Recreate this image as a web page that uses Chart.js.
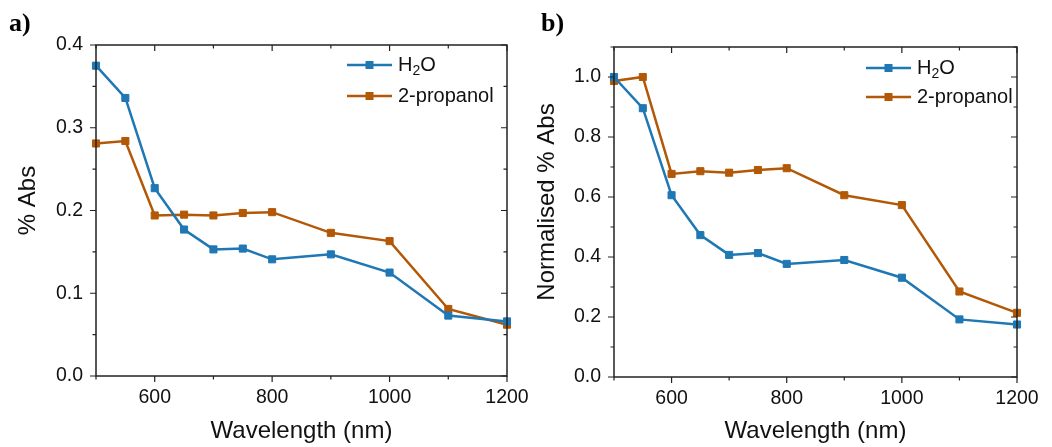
<!DOCTYPE html>
<html>
<head>
<meta charset="utf-8">
<script src="https://cdn.jsdelivr.net/npm/chart.js@4.4.1/dist/chart.umd.min.js"></script>
<style>
  html, body { margin: 0; padding: 0; background: #fff; }
  #wrap { position: relative; width: 1052px; height: 447px; overflow: hidden; }
  canvas { position: absolute; top: 0; }
  .tag { position: absolute; top: 8px; font: bold 26px "Liberation Serif", "DejaVu Serif", serif; color: #000; }
</style>
</head>
<body>
<div id="wrap">
  <canvas id="chartA" width="540" height="447" style="left:0"></canvas>
  <canvas id="chartB" width="532" height="447" style="left:520px"></canvas>
  <div class="tag" style="left:9px">a)</div>
  <div class="tag" style="left:541px">b)</div>
</div>
<script>
// data
const wavelengths = [500, 550, 600, 650, 700, 750, 800, 900, 1000, 1100, 1200];
const absWater = [0.375, 0.336, 0.227, 0.177, 0.153, 0.154, 0.141, 0.147, 0.125, 0.073, 0.066];
const absPropanol = [0.281, 0.284, 0.194, 0.195, 0.194, 0.197, 0.198, 0.173, 0.163, 0.081, 0.062];
const normWater = [1.0, 0.896, 0.606, 0.473, 0.407, 0.413, 0.377, 0.390, 0.331, 0.192, 0.175];
const normPropanol = [0.987, 1.0, 0.677, 0.686, 0.681, 0.690, 0.696, 0.606, 0.573, 0.285, 0.214];
const seriesNames = ['H₂O', '2-propanol'];
const seriesColors = ['#1f77b4', '#b35806'];

const FONT = '"Liberation Sans", Arial, sans-serif';
const AXIS = '#222';

function isMult(v, step) {
    const q = v / step;
    return Math.abs(q - Math.round(q)) < 1e-6;
}

function makeDatasets(values) {
    return values.map((vals, i) => ({
        label: seriesNames[i],
        data: wavelengths.map((w, j) => ({ x: w, y: vals[j] })),
        borderColor: seriesColors[i],
        backgroundColor: seriesColors[i],
        borderWidth: 2.5,
        pointStyle: 'rect',
        pointRadius: 5,
        pointBorderWidth: 1,
        pointBorderColor: seriesColors[i],
        pointBackgroundColor: seriesColors[i],
        tension: 0,
        clip: false
    }));
}

// frame, ticks (out on bottom/left, in on top/right), y title and the inside legend
const framePlugin = {
    id: 'frame',
    afterDatasetsDraw(chart, args, opts) {
        const { ctx, chartArea: a, scales } = chart;
        ctx.save();
        ctx.strokeStyle = AXIS;
        ctx.lineWidth = 1.5;
        ctx.strokeRect(a.left, a.top, a.right - a.left, a.bottom - a.top);

        ctx.lineWidth = 1.2;
        scales.x.ticks.forEach(t => {
            const px = scales.x.getPixelForValue(t.value);
            const len = isMult(t.value, 200) ? 6 : 3.5;
            ctx.beginPath();
            ctx.moveTo(px, a.bottom); ctx.lineTo(px, a.bottom + len);
            ctx.moveTo(px, a.top); ctx.lineTo(px, a.top + len);
            ctx.stroke();
        });
        scales.y.ticks.forEach(t => {
            const py = scales.y.getPixelForValue(t.value);
            const len = isMult(t.value, opts.yMajor) ? 6 : 3.5;
            ctx.beginPath();
            ctx.moveTo(a.left, py); ctx.lineTo(a.left - len, py);
            ctx.moveTo(a.right, py); ctx.lineTo(a.right - len, py);
            ctx.stroke();
        });

        // y title, sits a little above the middle of the axis like the original
        ctx.save();
        ctx.translate(opts.yTitleX, (a.top + a.bottom) / 2 - 10);
        ctx.rotate(-Math.PI / 2);
        ctx.fillStyle = '#111';
        ctx.font = '24px ' + FONT;
        ctx.textAlign = 'center';
        ctx.textBaseline = 'middle';
        ctx.fillText(opts.yTitle, 0, 0);
        ctx.restore();

        // legend
        const x0 = a.right - opts.legendRight;
        chart.data.datasets.forEach((ds, i) => {
            const y = a.top + opts.legendRows[i];
            ctx.strokeStyle = ds.borderColor;
            ctx.lineWidth = 2.5;
            ctx.beginPath();
            ctx.moveTo(x0, y); ctx.lineTo(x0 + 45, y);
            ctx.stroke();
            ctx.fillStyle = ds.borderColor;
            ctx.fillRect(x0 + 22.5 - 4, y - 4, 8, 8);

            ctx.fillStyle = '#111';
            ctx.textBaseline = 'middle';
            let tx = x0 + 51;
            const parts = ds.label.split(/(₂)/);
            parts.forEach(p => {
                if (p === '₂') {
                    ctx.font = '14px ' + FONT;
                    ctx.fillText('2', tx, y + 6);
                    tx += ctx.measureText('2').width;
                } else if (p) {
                    ctx.font = '20px ' + FONT;
                    ctx.fillText(p, tx, y);
                    tx += ctx.measureText(p).width;
                }
            });
        });
        ctx.restore();
    }
};

function makeChart(id, values, cfg) {
    return new Chart(document.getElementById(id), {
        type: 'line',
        data: { datasets: makeDatasets(values) },
        plugins: [framePlugin],
        options: {
            responsive: false,
            animation: false,
            events: [],
            layout: { padding: { left: 0, top: cfg.top, right: cfg.right, bottom: 0 } },
            plugins: {
                legend: { display: false },
                tooltip: { enabled: false },
                frame: {
                    yMajor: cfg.yMajor, yTitle: cfg.yTitle, yTitleX: cfg.yTitleX,
                    legendRight: cfg.legendRight, legendRows: cfg.legendRows
                }
            },
            scales: {
                x: {
                    type: 'linear',
                    min: 500,
                    max: 1200,
                    afterFit: s => { s.height = cfg.xHeight; },
                    grid: { display: false, drawTicks: false },
                    border: { display: false },
                    ticks: {
                        stepSize: 100,
                        autoSkip: false,
                        maxRotation: 0,
                        padding: 10,
                        color: '#111',
                        font: { family: FONT, size: 19.5 },
                        callback: v => (isMult(v, 200) ? String(v) : '')
                    },
                    title: {
                        display: true,
                        text: 'Wavelength (nm)',
                        color: '#111',
                        font: { family: FONT, size: 24 },
                        padding: { top: 0, bottom: 1 }
                    }
                },
                y: {
                    min: 0,
                    max: cfg.yMax,
                    afterFit: s => { s.width = cfg.yWidth; },
                    grid: { display: false, drawTicks: false },
                    border: { display: false },
                    ticks: {
                        stepSize: cfg.yStep,
                        autoSkip: false,
                        padding: 13,
                        color: '#111',
                        font: { family: FONT, size: 19.5 },
                        callback: v => (isMult(v, cfg.yMajor) && v <= cfg.yLabelMax + 1e-6 ? v.toFixed(1) : '')
                    },
                    title: { display: false }
                }
            }
        }
    });
}

makeChart('chartA', [absWater, absPropanol], {
    top: 45, right: 33, xHeight: 71, yWidth: 96,
    yMax: 0.4, yStep: 0.05, yMajor: 0.1, yLabelMax: 0.4,
    yTitle: '% Abs', yTitleX: 28,
    legendRight: 160, legendRows: [20, 51]
});

makeChart('chartB', [normWater, normPropanol], {
    top: 47, right: 35, xHeight: 70, yWidth: 94,
    yMax: 1.1, yStep: 0.1, yMajor: 0.2, yLabelMax: 1.0,
    yTitle: 'Normalised % Abs', yTitleX: 27,
    legendRight: 151, legendRows: [21, 50]
});
</script>
</body>
</html>
